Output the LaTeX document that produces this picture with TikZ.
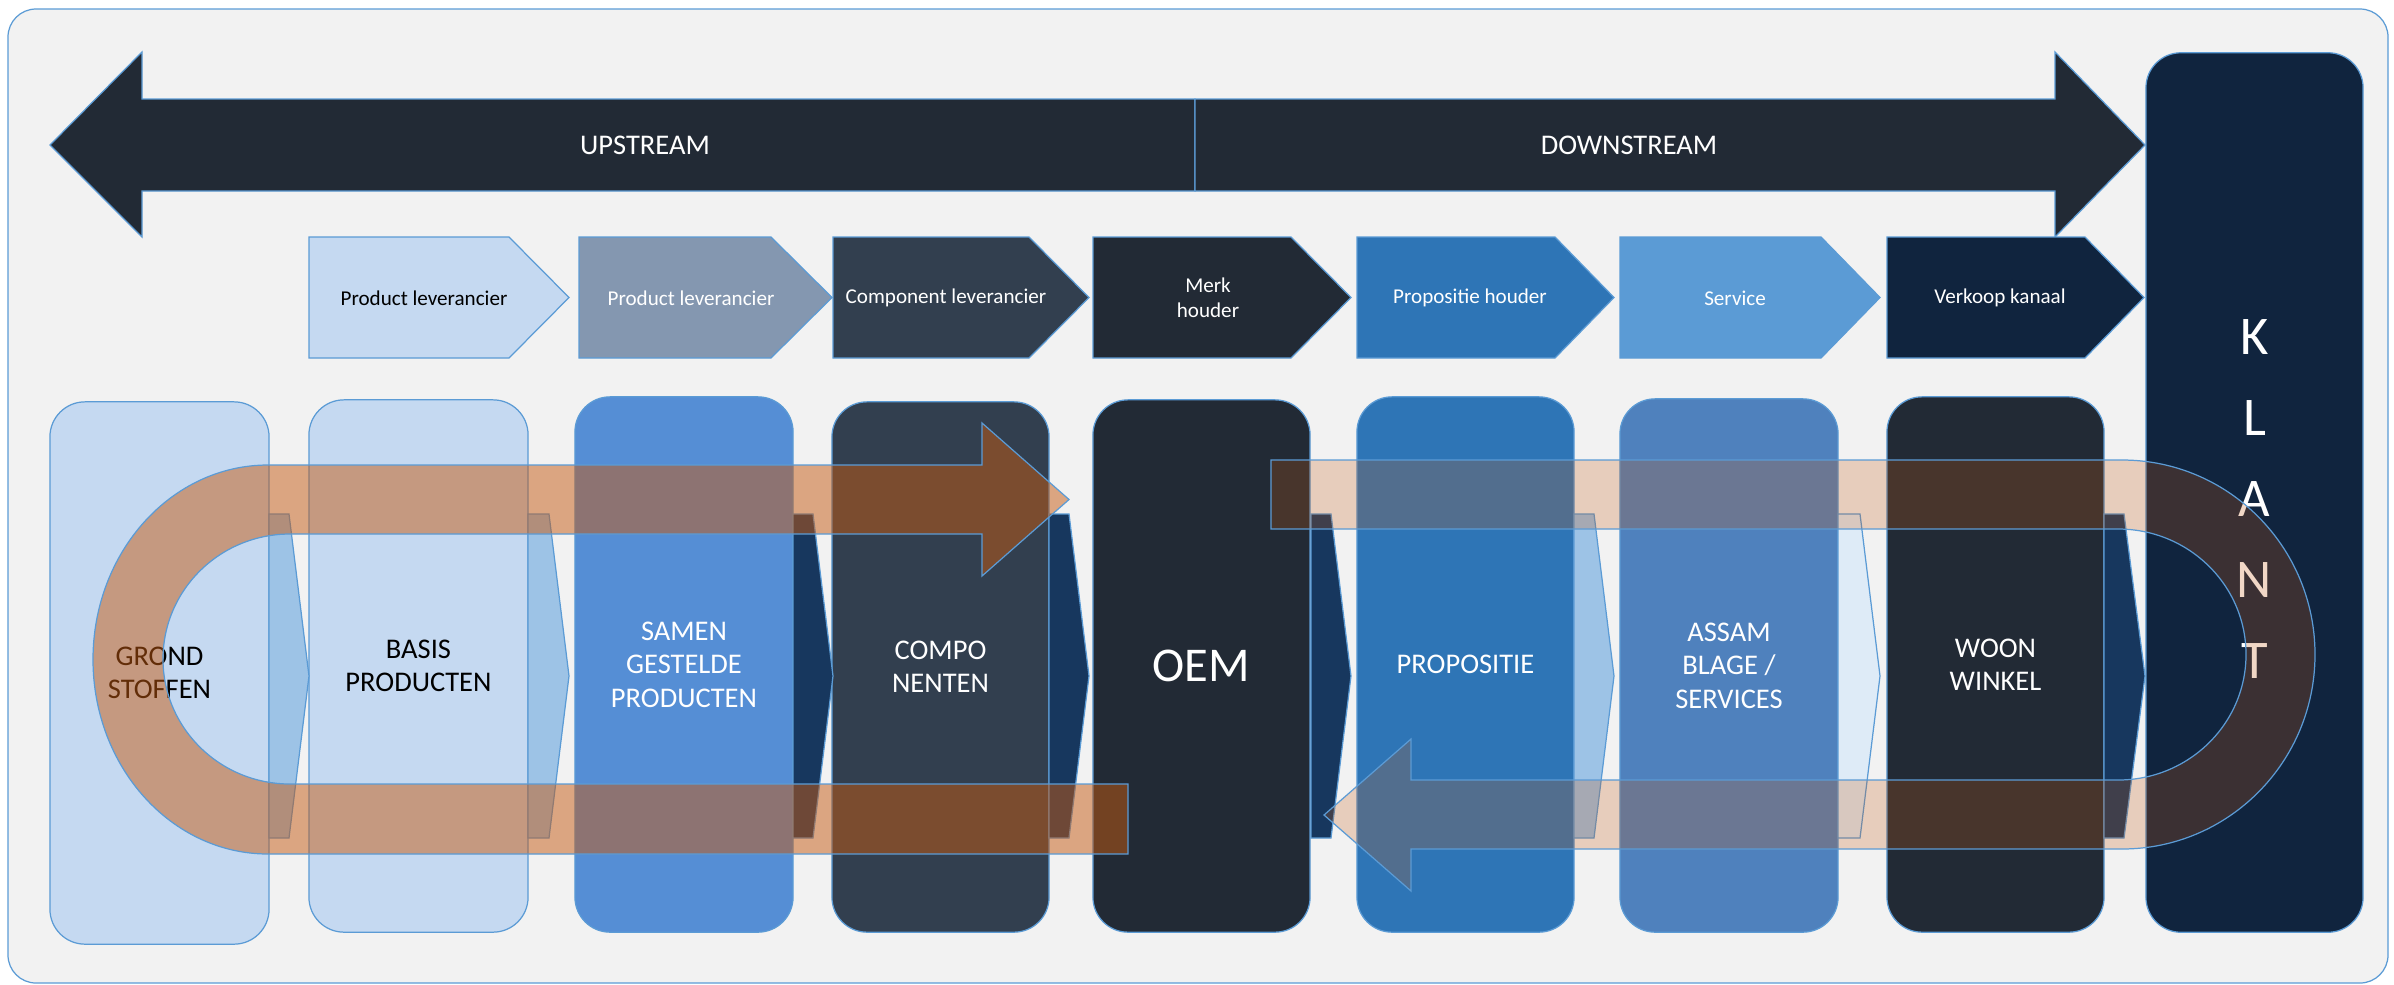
\documentclass[tikz,border=0pt]{standalone}
\usepackage{fontspec}
\setmainfont{Carlito}
\usepackage{tikz}
\usetikzlibrary{positioning}
\usetikzlibrary{calc}

\definecolor{framebg}{HTML}{F2F2F2}
\definecolor{edgeblue}{HTML}{5B9BD5}
\definecolor{darkslate}{HTML}{222A35}
\definecolor{slate}{HTML}{323F4F}
\definecolor{greyblue}{HTML}{8497B0}
\definecolor{paleblue}{HTML}{C5D9F1}
\definecolor{midblue}{HTML}{2E75B6}
\definecolor{skyblue}{HTML}{5B9BD5}
\definecolor{navy}{HTML}{10243E}
\definecolor{cornflower}{HTML}{558ED5}
\definecolor{steelblue}{HTML}{4F81BD}
\definecolor{linkdark}{HTML}{17375E}
\definecolor{linklight}{HTML}{9DC3E6}
\definecolor{linkpale}{HTML}{DEEBF7}
\definecolor{flowbrown}{HTML}{C55A11}

\tikzset{
  bigarrow/.style = {fill = darkslate, draw = edgeblue, line width = 0.35pt},
  bigtext/.style = {font = \fontsize{8.1}{9.5}\selectfont, text = white},
  chevron/.style = {draw = edgeblue, line width = 0.35pt},
  chevtext/.style = {font = \fontsize{6}{7.2}\selectfont, text = white, align = center},
  stage/.style = {draw = edgeblue, line width = 0.35pt, rounded corners = 0.35cm, minimum width = 2.18cm, minimum height = 5.32cm, align = center, font = \fontsize{8.1}{9.5}\selectfont, text = white},
  link/.style = {draw = edgeblue, line width = 0.35pt},
  flow/.style = {draw = edgeblue, line width = 0.35pt, fill = flowbrown}
}

\begin{document}
\begin{tikzpicture}[x = 0.01cm, y = -0.01cm]

        \useasboundingbox (0,0) rectangle (2394,984);

        % draw the frame
        \draw[fill = framebg, draw = edgeblue, line width = 0.35pt, rounded corners = 0.28cm] (8,9) rectangle (2388,983);

        % draw the big arrows
        \draw[bigarrow] (50,145) -- (142,52) -- (142,99) -- (1195,99) -- (1195,191) -- (142,191) -- (142,237) -- cycle;
        \draw[bigarrow] (1195,99) -- (2055,99) -- (2055,52) -- (2145,145) -- (2055,237) -- (2055,191) -- (1195,191) -- cycle;
        \node[bigtext] (upstream) at (645,145) {UPSTREAM};
        \node[bigtext] (downstream) at (1629,145) {DOWNSTREAM};

        % draw the chevrons
        \draw[chevron, fill = paleblue] (309,237) -- (509,237) -- (569,297.5) -- (509,358) -- (309,358) -- cycle;
        \draw[chevron, fill = greyblue] (579,237) -- (771,237) -- (832,297.5) -- (771,358) -- (579,358) -- cycle;
        \draw[chevron, fill = slate] (833,237) -- (1029,237) -- (1089,297.5) -- (1029,358) -- (833,358) -- cycle;
        \draw[chevron, fill = darkslate] (1093,237) -- (1291,237) -- (1351,297.5) -- (1291,358) -- (1093,358) -- cycle;
        \draw[chevron, fill = midblue] (1357,237) -- (1555,237) -- (1614,297.5) -- (1555,358) -- (1357,358) -- cycle;
        \draw[chevron, fill = skyblue] (1620,237) -- (1821,237) -- (1880,297.5) -- (1821,358) -- (1620,358) -- cycle;
        \draw[chevron, fill = navy] (1887,237) -- (2085,237) -- (2144,297.5) -- (2085,358) -- (1887,358) -- cycle;

        \node[chevtext, text = black] (chev_product) at (424,298) {Product leverancier};
        \node[chevtext] (chev_product_2) at (691,298) {Product leverancier};
        \node[chevtext] (chev_component) at (946,298) {Component leverancier};
        \node[chevtext] (chev_merk) at (1208,298) {Merk\\houder};
        \node[chevtext] (chev_propositie) at (1470,298) {Propositie houder};
        \node[chevtext] (chev_service) at (1735,298) {Service};
        \node[chevtext] (chev_verkoop) at (2000,298) {Verkoop kanaal};

        % draw the stages
        \node[stage, fill = paleblue, text = black, minimum width = 2.19cm, minimum height = 5.42cm] (box_grond) at (159.5,673) {GROND\\STOFFEN};
        \node[stage, fill = paleblue, text = black, minimum width = 2.19cm] (box_basis) at (418.5,666) {BASIS\\PRODUCTEN};
        \node[stage, fill = cornflower, minimum height = 5.35cm] (box_samen) at (684,664.5) {SAMEN\\GESTELDE\\PRODUCTEN};
        \node[stage, fill = slate, minimum width = 2.17cm, minimum height = 5.30cm] (box_compo) at (940.5,667) {COMPO\\NENTEN};
        \node[stage, fill = darkslate, minimum width = 2.17cm, font = \fontsize{13.8}{16}\selectfont] (box_oem) at (1201.5,666) {OEM};
        \node[stage, fill = midblue, minimum width = 2.17cm, minimum height = 5.35cm] (box_propositie) at (1465.5,664.5) {PROPOSITIE};
        \node[stage, fill = steelblue, minimum height = 5.33cm] (box_assemblage) at (1729,665.5) {ASSAM\\BLAGE /\\SERVICES};
        \node[stage, fill = darkslate, minimum width = 2.17cm, minimum height = 5.35cm] (box_woon) at (1995.5,664.5) {WOON\\WINKEL};
        \node[stage, fill = navy, minimum width = 2.17cm, minimum height = 8.79cm] (box_klant) at (2254.5,492.5) {};
        \node[text = white, align = center, font = \fontsize{15.5}{23}\selectfont] (klant_text) at ($(box_klant.center) + (0,6.5)$) {K\\L\\A\\N\\T};

        % draw the links
        \draw[link, fill = linklight] (269,514) -- (289,514) -- (309,676) -- (289,838) -- (269,838) -- cycle;
        \draw[link, fill = linklight] (528,514) -- (549,514) -- (569,676) -- (549,838) -- (528,838) -- cycle;
        \draw[link, fill = linkdark] (793,514) -- (813,514) -- (833,676) -- (813,838) -- (793,838) -- cycle;
        \draw[link, fill = linkdark] (1049,514) -- (1069,514) -- (1089,676) -- (1069,838) -- (1049,838) -- cycle;
        \draw[link, fill = linkdark] (1311,514) -- (1331,514) -- (1351,676) -- (1331,838) -- (1311,838) -- cycle;
        \draw[link, fill = linklight] (1574,514) -- (1594,514) -- (1614,676) -- (1594,838) -- (1574,838) -- cycle;
        \draw[link, fill = linkpale] (1838,514) -- (1860,514) -- (1880,676) -- (1860,838) -- (1838,838) -- cycle;
        \draw[link, fill = linkdark] (2104,514) -- (2124,514) -- (2145,676) -- (2124,838) -- (2104,838) -- cycle;

        % draw the flows
        \draw[flow, fill opacity = 0.5] (1128,854) -- (268,854) arc[start angle = 90, end angle = 270, x radius = 175, y radius = 194.5] -- (982,465) -- (982,423) -- (1069,499.5) -- (982,576) -- (982,534) -- (290,534) arc[start angle = 270, end angle = 90, x radius = 127, y radius = 125] -- (1128,784) -- cycle;
        \draw[flow, fill opacity = 0.24] (1271,460) -- (2122,460) arc[start angle = -90, end angle = 90, x radius = 193, y radius = 194.5] -- (1411,849) -- (1411,891) -- (1324,815) -- (1411,739) -- (1411,780) -- (2118,780) arc[start angle = 90, end angle = -90, x radius = 128, y radius = 125.5] -- (1271,529) -- cycle;

\end{tikzpicture}
\end{document}
